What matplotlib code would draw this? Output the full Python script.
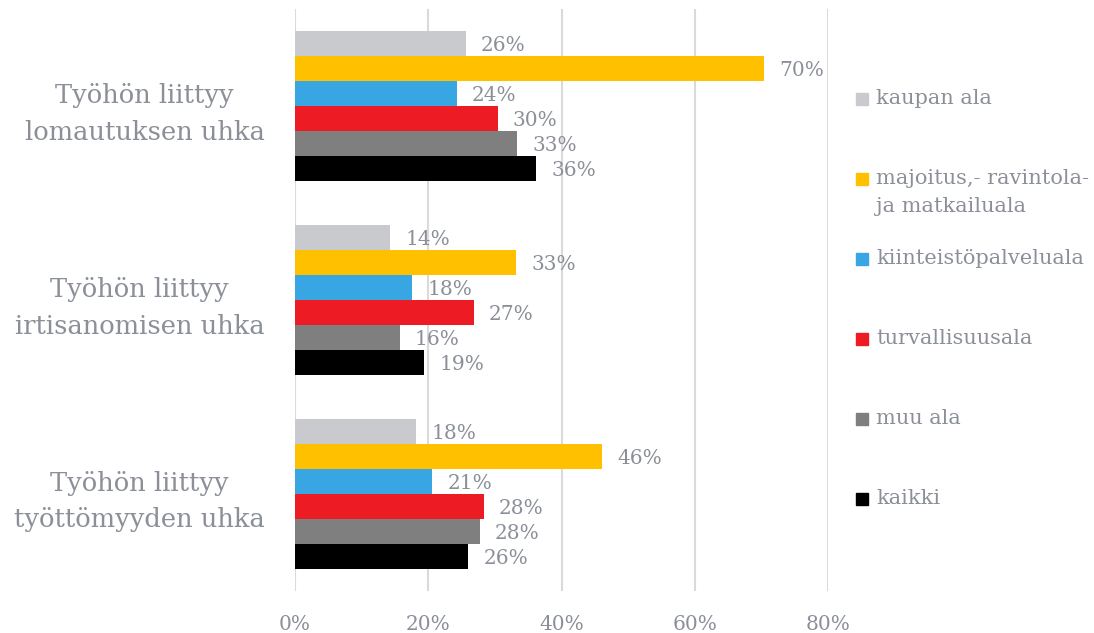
import numpy as np
import matplotlib
matplotlib.use("Agg")
import matplotlib.pyplot as plt
from matplotlib.patches import Rectangle

plt.rcParams['font.family'] = ['DejaVu Serif']

# data (percent)
categories = ["Työhön liittyy\nlomautuksen uhka",
              "Työhön liittyy\nirtisanomisen uhka",
              "Työhön liittyy\ntyöttömyyden uhka"]
series_names = ["kaupan ala", "majoitus,- ravintola-\nja matkailuala",
                "kiinteistöpalveluala", "turvallisuusala", "muu ala", "kaikki"]
kaupan = [25.6, 14.3, 18.2]
majoitus = [70.4, 33.2, 46.1]
kiinteisto = [24.3, 17.6, 20.6]
turvallisuus = [30.4, 26.8, 28.3]
muu = [33.3, 15.7, 27.7]
kaikki = [36.2, 19.4, 26.0]
x_ticks = [0, 20, 40, 60, 80]

colors = ["#C9CACD", "#FFC000", "#37A6E3", "#ED1C24", "#7F7F7F", "#000000"]
text_col = "#8B8F98"
grid_col = "#DADADA"

series = [kaupan, majoitus, kiinteisto, turvallisuus, muu, kaikki]

fig = plt.figure(figsize=(10.94, 6.33), dpi=100)
ax = fig.add_axes([295 / 1094, 1 - 591 / 633, 533 / 1094, 582 / 633])

n = len(series)
bar_h = 0.129
centers = np.arange(len(categories))
for i, (vals, c) in enumerate(zip(series, colors)):
    y = centers + (i - (n - 1) / 2) * bar_h
    bars = ax.barh(y, vals, height=bar_h * 0.97, color=c, zorder=3)
    for b, v in zip(bars, vals):
        ax.annotate(f"{round(v):d}%", (v, b.get_y() + b.get_height() / 2),
                    xytext=(11, -1.5), textcoords="offset points",
                    ha="left", va="center", fontsize=14.5, color=text_col)

ax.set_xlim(0, 80)
ax.set_ylim(len(categories) - 0.5, -0.5)
ax.set_xticks(x_ticks)
ax.set_xticklabels([f"{t}%" for t in x_ticks], fontsize=14.5, color=text_col)
ax.set_yticks(centers)
ax.set_yticklabels(categories, fontsize=18.5, color=text_col,
                   ha="right", multialignment="center", linespacing=1.55)
for lbl in ax.get_yticklabels():
    lbl.set_y(lbl.get_position()[1])
ax.tick_params(axis="both", length=0)
ax.tick_params(axis="x", pad=17)
ax.tick_params(axis="y", pad=22)
for s in ax.spines.values():
    s.set_visible(False)
ax.xaxis.grid(True, color=grid_col, linewidth=1.5, zorder=0)
ax.set_axisbelow(True)

# legend on the right, drawn by hand
leg_x = 856 / 1094
for i, (name, c) in enumerate(zip(series_names, colors)):
    yc = 1 - (99 + i * 80) / 633
    fig.patches.append(Rectangle((leg_x, yc - 6 / 633), 12 / 1094, 12 / 633,
                                 transform=fig.transFigure, color=c))
    fig.text(876 / 1094, yc + 10 / 633, name, fontsize=15, color=text_col,
             ha="left", va="top", linespacing=1.6)

fig.savefig("out.png", dpi=100)
